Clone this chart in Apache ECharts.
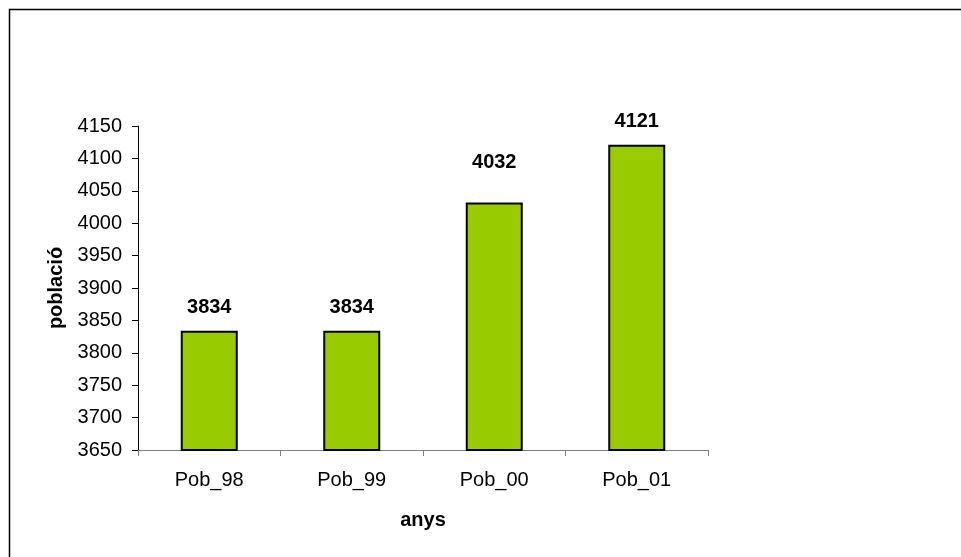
<!DOCTYPE html>
<html>
<head>
<meta charset="utf-8">
<script src="https://cdn.jsdelivr.net/npm/echarts@6/dist/echarts.min.js"></script>
<style>
html,body{margin:0;padding:0;background:#fff;}
#chart{width:961px;height:557px;}
</style>
</head>
<body>
<div id="chart"></div>
<script>
const categories = ['Pob_98', 'Pob_99', 'Pob_00', 'Pob_01'];
const poblacio = [3834, 3834, 4032, 4121];
const yMin = 3650, yMax = 4150, yStep = 50;
const xTitle = 'anys';
const yTitle = 'població';
const labelRaise = [0, 0, 17, 0];

const font = '"Liberation Sans", Arial, sans-serif';
const chart = echarts.init(document.getElementById('chart'), null, {renderer: 'canvas'});
chart.setOption({
  animation: false,
  backgroundColor: '#fff',
  graphic: [{
    type: 'rect', silent: true,
    shape: {x: 9.5, y: 9.5, width: 1200, height: 1200},
    style: {fill: 'none', stroke: '#000', lineWidth: 1.5}
  }],
  grid: {left: 138, right: 253, top: 126, bottom: 107, containLabel: false},
  xAxis: {
    type: 'category',
    data: categories,
    boundaryGap: true,
    name: xTitle,
    nameLocation: 'middle',
    nameGap: 60,
    nameTextStyle: {fontFamily: font, fontSize: 20, fontWeight: 'bold', color: '#000'},
    axisLine: {lineStyle: {color: '#808080', width: 1}},
    axisTick: {show: true, length: 6, alignWithLabel: false, lineStyle: {color: '#808080'}},
    axisLabel: {fontFamily: font, fontSize: 20, color: '#000', margin: 20},
    splitLine: {show: false}
  },
  yAxis: {
    type: 'value',
    min: yMin, max: yMax, interval: yStep,
    name: yTitle,
    nameLocation: 'middle',
    nameRotate: 90,
    nameGap: 66,
    nameTextStyle: {fontFamily: font, fontSize: 20, fontWeight: 'bold', color: '#000'},
    axisLine: {show: true, lineStyle: {color: '#000', width: 1}},
    axisTick: {show: true, length: 6, lineStyle: {color: '#000'}},
    axisLabel: {fontFamily: font, fontSize: 20, color: '#000', margin: 16, formatter: v => String(v)},
    splitLine: {show: false}
  },
  series: [{
    type: 'bar',
    barWidth: '40%',
    data: poblacio.map((v, i) => ({
      value: v,
      label: {offset: [0, -labelRaise[i]]}
    })),
    itemStyle: {color: '#99CC00', borderColor: '#000', borderWidth: 2},
    label: {
      show: true, position: 'top', distance: 13,
      fontFamily: font, fontSize: 20, fontWeight: 'bold', color: '#000'
    }
  }]
});
</script>
</body>
</html>
